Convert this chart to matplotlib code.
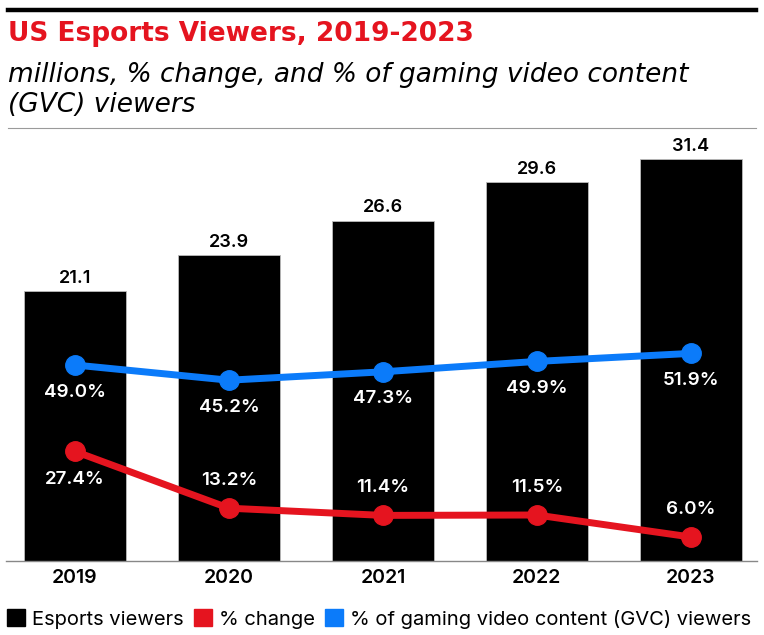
import matplotlib
matplotlib.use("Agg")
import matplotlib.pyplot as plt
from matplotlib.patches import Rectangle
from matplotlib.lines import Line2D

years = ["2019", "2020", "2021", "2022", "2023"]
viewers = [21.1, 23.9, 26.6, 29.6, 31.4]
pct_change = [27.4, 13.2, 11.4, 11.5, 6.0]
pct_gvc = [49.0, 45.2, 47.3, 49.9, 51.9]
change_label_above = [False, True, True, True, True]

RED = "#e5141f"
BLUE = "#0b7bfa"
FONT = ["Inter", "DejaVu Sans"]
plt.rcParams['font.family'] = FONT

W, H = 764, 635
fig = plt.figure(figsize=(W / 100, H / 100), dpi=100)

def fx(x):
    return x / W

def fy(y):
    return 1 - y / H

# top rule and divider
fig.add_artist(Line2D([fx(8), fx(756)], [fy(10), fy(10)], color="black", lw=3.2))
fig.add_artist(Line2D([fx(8), fx(756)], [fy(128), fy(128)], color="#9a9a9a", lw=0.8))

fig.text(fx(8), fy(34), "US Esports Viewers, 2019-2023", color=RED, fontsize=19,
         fontweight="bold", va="center", ha="left", family=["DejaVu Sans"])
fig.text(fx(8), fy(75), "millions, % change, and % of gaming video content",
         fontsize=19, style="italic", va="center", ha="left", family=["DejaVu Sans"])
fig.text(fx(8), fy(105), "(GVC) viewers",
         fontsize=19, style="italic", va="center", ha="left", family=["DejaVu Sans"])

left, right, bottom, top = 6, 757, 561, 150
ax = fig.add_axes([fx(left), fy(bottom), fx(right - left), (bottom - top) / H])
x = list(range(len(years)))
ax.bar(x, viewers, width=0.66, color="black", edgecolor="#bbbbbb", linewidth=0.6, zorder=2)
ax.set_xlim(-0.448, 4.43)
ax.set_ylim(0, (bottom - top) / 12.8)
for s in ["top", "right", "left"]:
    ax.spines[s].set_visible(False)
ax.spines["bottom"].set_color("#888888")
ax.spines["bottom"].set_linewidth(1.0)
ax.set_yticks([])
ax.set_xticks(x)
ax.set_xticklabels(years, fontsize=14, fontweight="semibold")
ax.tick_params(axis="x", length=0, pad=6)
for xi, v in zip(x, viewers):
    ax.annotate(f"{v:.1f}", (xi, v), xytext=(0, 3), textcoords="offset points",
                ha="center", va="bottom", fontsize=13, fontweight="semibold")

ax2 = ax.twinx()
ax2.set_ylim(0, (bottom - top) / 4.0)
ax2.set_yticks([])
for s in ax2.spines.values():
    s.set_visible(False)
ax2.plot(x, pct_gvc, color=BLUE, lw=5, marker="o", ms=14, zorder=3)
ax2.plot(x, pct_change, color=RED, lw=5, marker="o", ms=14, zorder=3)
for xi, v in zip(x, pct_gvc):
    ax2.annotate(f"{v:.1f}%", (xi, v), xytext=(0, -19.5), textcoords="offset points",
                 ha="center", va="center", fontsize=13.5, color="white", fontweight="semibold")
for xi, v, above in zip(x, pct_change, change_label_above):
    ax2.annotate(f"{v:.1f}%", (xi, v), xytext=(0, 20 if above else -20), textcoords="offset points",
                 ha="center", va="center", fontsize=13.5, color="white",
                 fontweight="semibold")

# legend
handles = [Rectangle((0, 0), 1, 1, color=c) for c in ["black", RED, BLUE]]
labels = ["Esports viewers", "% change", "% of gaming video content (GVC) viewers"]
fig.legend(handles, labels, loc="center left", bbox_to_anchor=(fx(7), fy(619)), ncol=3,
           frameon=False, fontsize=14.5, handlelength=0.9, handleheight=0.9,
           handletextpad=0.35, columnspacing=0.5, borderaxespad=0, borderpad=0)

fig.savefig("out.png", dpi=100)
